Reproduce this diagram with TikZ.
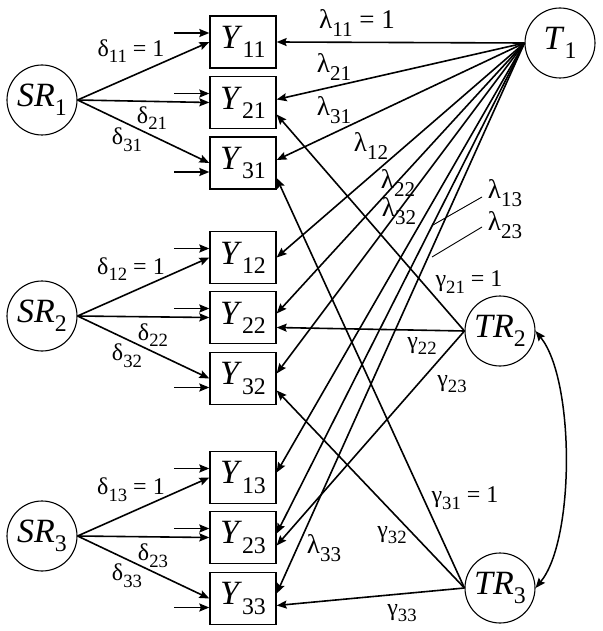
\documentclass[tikz,border=0pt]{standalone}
\usepackage{fontspec}
\setmainfont{Liberation Serif}
\usetikzlibrary{arrows.meta}
\newcommand\lsub[1]{\raisebox{-0.28em}{\scalebox{0.78}{#1}}}
\newcommand\nsub[1]{\raisebox{-0.27em}{\scalebox{0.7}{#1}}}
\begin{document}
\begin{tikzpicture}[x=1pt,y=-1pt,
  obs/.style={draw,line width=1.3pt,minimum width=66pt,minimum height=52pt,inner sep=0pt,font=\fontsize{34}{36}\selectfont},
  lat/.style={draw,circle,line width=1.1pt,minimum size=70pt,inner sep=0pt,font=\fontsize{34}{36}\selectfont},
  tip/.tip={Stealth[length=10pt,width=8pt,inset=1.5pt]},
  arr/.style={line width=1.6pt,-tip},
  darr/.style={line width=1.5pt,tip-tip},
  lab/.style={inner sep=0pt,font=\fontsize{24}{26}\selectfont},
  llab/.style={inner sep=0pt,font=\fontsize{27}{29}\selectfont},
  lead/.style={line width=0.9pt}]
\useasboundingbox (0,0) rectangle (602,631);
% latent nodes
\node[lat] (SR1) at (42,100) {\textit{SR}\nsub{1}};
\node[lat] (SR2) at (42,316) {\textit{SR}\nsub{2}};
\node[lat] (SR3) at (42,536) {\textit{SR}\nsub{3}};
\node[lat] (T1) at (560,43) {\textit{T}\nsub{1}};
\node[lat] (TR2) at (500,331) {\textit{TR}\nsub{2}};
\node[lat] (TR3) at (500,588) {\textit{TR}\nsub{3}};
% observed nodes
\node[obs] (Y11) at (243,42) {\textit{Y}\nsub{11}};
\node[obs] (Y21) at (243,102.5) {\textit{Y}\nsub{21}};
\node[obs] (Y31) at (243,163) {\textit{Y}\nsub{31}};
\node[obs] (Y12) at (243,257.5) {\textit{Y}\nsub{12}};
\node[obs] (Y22) at (243,317.5) {\textit{Y}\nsub{22}};
\node[obs] (Y32) at (243,378.5) {\textit{Y}\nsub{32}};
\node[obs] (Y13) at (243,477.5) {\textit{Y}\nsub{13}};
\node[obs] (Y23) at (243,537.5) {\textit{Y}\nsub{23}};
\node[obs] (Y33) at (243,598.5) {\textit{Y}\nsub{33}};
% error arrows
\foreach \n in {Y11,Y21,Y12,Y22,Y13,Y23}
  \draw[arr] ([xshift=-35pt,yshift=9pt]\n.west) -- ([yshift=9pt]\n.west);
\foreach \n in {Y31,Y32,Y33}
  \draw[arr] ([xshift=-35pt,yshift=-9pt]\n.west) -- ([yshift=-9pt]\n.west);
% SR arrows
\draw[arr] (SR1.east) -- (Y11.west);
\draw[arr] (SR1.east) -- (Y21.west);
\draw[arr] (SR1.east) -- (Y31.west);
\draw[arr] (SR2.east) -- (Y12.west);
\draw[arr] (SR2.east) -- (Y22.west);
\draw[arr] (SR2.east) -- (Y32.west);
\draw[arr] (SR3.east) -- (Y13.west);
\draw[arr] (SR3.east) -- (Y23.west);
\draw[arr] (SR3.east) -- (Y33.west);
% T1 arrows
\draw[arr] (T1.west) -- (Y11.east);
\draw[arr] (T1.west) -- ([yshift=3pt]Y21.east);
\draw[arr] (T1.west) -- ([yshift=3pt]Y31.east);
\draw[arr] (T1.west) -- (Y12.east);
\draw[arr] (T1.west) -- ([yshift=4pt]Y22.east);
\draw[arr] (T1.west) -- ([yshift=5pt]Y32.east);
\draw[arr] (T1.west) -- ([yshift=5pt]Y13.east);
\draw[arr] (T1.west) -- ([yshift=4pt]Y23.east);
\draw[arr] (T1.west) -- ([yshift=5pt]Y33.east);
% TR arrows
\draw[arr] (TR2.west) -- ([yshift=-12pt]Y21.east);
\draw[arr] (TR2.west) -- ([yshift=-10pt]Y22.east);
\draw[arr] (TR2.west) -- ([yshift=-8pt]Y23.east);
\draw[arr] (TR3.west) -- ([yshift=-15pt]Y31.east);
\draw[arr] (TR3.west) -- ([yshift=-12pt]Y32.east);
\draw[arr] (TR3.west) -- ([yshift=-7pt]Y33.east);
% covariance
\draw[darr] (TR2.east) .. controls (575,380) and (575,540) .. (TR3.east);
% delta labels
\node[lab] (d11) at (131,51) {δ\lsub{11} = 1};
\node[lab] (d21) at (152,118) {δ\lsub{21}};
\node[lab] (d31) at (127,140) {δ\lsub{31}};
\node[lab] (d12) at (131,269) {δ\lsub{12} = 1};
\node[lab] (d22) at (153,335) {δ\lsub{22}};
\node[lab] (d32) at (127,356) {δ\lsub{32}};
\node[lab] (d13) at (131,490) {δ\lsub{13} = 1};
\node[lab] (d23) at (153,556) {δ\lsub{23}};
\node[lab] (d33) at (127,576) {δ\lsub{33}};
% lambda labels
\node[llab] (l11) at (357,23) {λ\lsub{11} = 1};
\node[llab] (l21) at (334,67) {λ\lsub{21}};
\node[llab] (l31) at (334,110) {λ\lsub{31}};
\node[llab] (l12) at (371,146) {λ\lsub{12}};
\node[llab] (l22) at (398,183) {λ\lsub{22}};
\node[llab] (l32) at (399,211) {λ\lsub{32}};
\node[llab] (l13) at (505,193) {λ\lsub{13}};
\node[llab] (l23) at (505,225) {λ\lsub{23}};
\node[llab] (l33) at (324,548) {λ\lsub{33}};
\coordinate (a13) at (482,197);
\coordinate (b13) at (433,225);
\coordinate (a23) at (482,227);
\coordinate (b23) at (432,257);
\draw[lead] (a13) -- (b13);
\draw[lead] (a23) -- (b23);
% gamma labels
\node[lab] (g21) at (469,282) {γ\lsub{21} = 1};
\node[lab] (g22) at (422,346) {γ\lsub{22}};
\node[lab] (g23) at (452,384) {γ\lsub{23}};
\node[lab] (g31) at (465,498) {γ\lsub{31} = 1};
\node[lab] (g32) at (392,535) {γ\lsub{32}};
\node[lab] (g33) at (402,613) {γ\lsub{33}};
\end{tikzpicture}
\end{document}
